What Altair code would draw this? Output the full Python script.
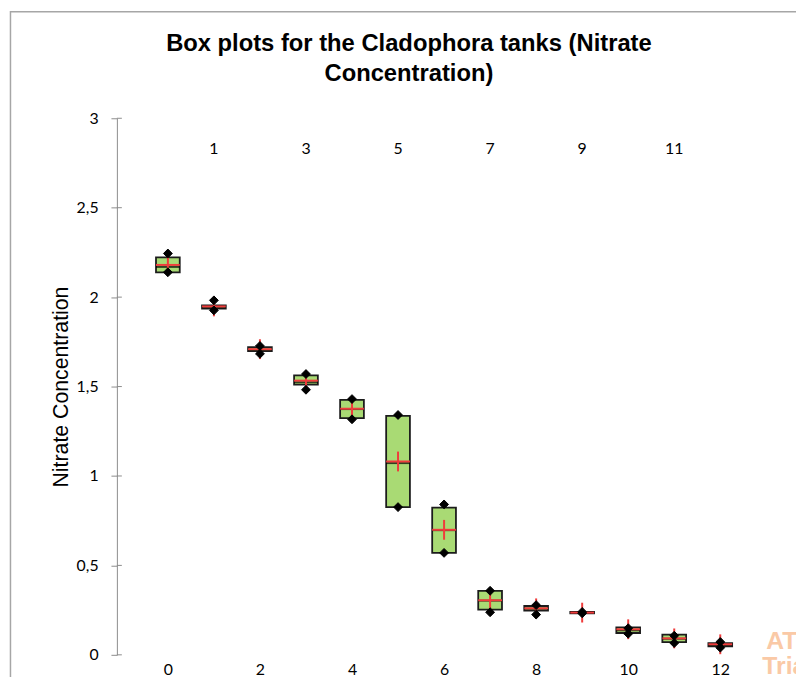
import altair as alt
import pandas as pd

# ---- data ----
categories = list(range(13))
q1_vals     = [2.139, 1.936, 1.698, 1.511, 1.323, 0.826, 0.570, 0.253, 0.247, 0.232, 0.122, 0.071, 0.048]
q3_vals     = [2.222, 1.954, 1.720, 1.563, 1.426, 1.336, 0.823, 0.358, 0.273, 0.240, 0.153, 0.113, 0.065]
median_vals = [2.169, 1.943, 1.706, 1.524, 1.374, 1.072, 0.697, 0.303, 0.258, 0.236, 0.137, 0.090, 0.056]
mean_vals   = [2.180, 1.948, 1.709, 1.533, 1.376, 1.081, 0.699, 0.305, 0.260, 0.236, 0.143, 0.092, 0.059]
min_vals    = [2.139, 1.926, 1.683, 1.482, 1.317, 0.826, 0.570, 0.238, 0.225, 0.232, 0.118, 0.066, 0.040]
max_vals    = [2.244, 1.982, 1.727, 1.570, 1.430, 1.341, 0.841, 0.358, 0.278, 0.240, 0.149, 0.107, 0.072]

bottom_labels = [0, 2, 4, 6, 8, 10, 12]
top_labels = [1, 3, 5, 7, 9, 11]
y_ticks = [0, 0.5, 1, 1.5, 2, 2.5, 3]

title_lines = "Box plots for the Cladophora tanks (Nitrate\nConcentration)"
y_title = "Nitrate Concentration"

df = pd.DataFrame({
    "cat": categories, "q1": q1_vals, "q3": q3_vals, "median": median_vals,
    "mean": mean_vals, "min": min_vals, "max": max_vals,
})
top_df = pd.DataFrame({"c": top_labels, "lab": [str(v) for v in top_labels]})
tick_df = pd.DataFrame({"v": y_ticks})
one = pd.DataFrame({"t": [title_lines]})

W, H = 661, 542
GREEN = "#A9DA74"
RED = "#F03C3C"
GRAY = "#8C8C8C"
LABEL_FONT = "Lato"

xs = alt.Scale(domain=[-1, 13], nice=False, zero=False)
ys = alt.Scale(domain=[0, 3], nice=False, zero=False)

x_axis = alt.Axis(values=bottom_labels, title=None, domain=False, ticks=False, tickSize=0,
                  grid=False, labelPadding=7, labelFont=LABEL_FONT, labelFontSize=16,
                  labelColor="black", labelFlush=False, labelOverlap=False)
y_axis = alt.Axis(values=y_ticks, grid=False, domainColor=GRAY, tickColor=GRAY, tickSize=6,
                  labelPadding=13, labelFont=LABEL_FONT, labelFontSize=16, labelColor="black",
                  labelExpr="replace(toString(datum.value), '.', ',')",
                  title=y_title, titleFont="Liberation Sans", titleFontSize=21.5,
                  titleFontWeight="normal", titleColor="black", titleAngle=270,
                  titleX=-50, titleY=H / 2, titleBaseline="alphabetic", titleAlign="center")

X = alt.X("cat:Q", scale=xs, axis=x_axis)

base = alt.Chart(df)

boxes = base.mark_bar(orient="vertical", size=24, fill=GREEN, stroke="#1c1c1c",
                      strokeWidth=1.8).encode(
    x=X, y=alt.Y("q1:Q", scale=ys, axis=y_axis), y2="q3:Q")

median = base.mark_tick(orient="horizontal", size=24, thickness=2, color="black").encode(
    x=alt.X("cat:Q", scale=xs), y=alt.Y("median:Q", scale=ys))

mean_h = base.mark_tick(orient="horizontal", size=24, thickness=2, color=RED, opacity=1).encode(
    x=alt.X("cat:Q", scale=xs), y=alt.Y("mean:Q", scale=ys))

mean_v = base.mark_tick(orient="vertical", size=20, thickness=2, color=RED, opacity=1).encode(
    x=alt.X("cat:Q", scale=xs), y=alt.Y("mean:Q", scale=ys))

pt_max = base.mark_point(shape="diamond", filled=True, size=80, color="black", opacity=1,
                         stroke="black", strokeWidth=1).encode(
    x=alt.X("cat:Q", scale=xs), y=alt.Y("max:Q", scale=ys))
pt_min = base.mark_point(shape="diamond", filled=True, size=80, color="black", opacity=1,
                         stroke="black", strokeWidth=1).encode(
    x=alt.X("cat:Q", scale=xs), y=alt.Y("min:Q", scale=ys))

inner_ticks = alt.Chart(tick_df).mark_rule(color=GRAY, strokeWidth=1).encode(
    y=alt.Y("v:Q", scale=ys), x=alt.value(0), x2=alt.value(5))

top_text = alt.Chart(top_df).mark_text(font=LABEL_FONT, fontSize=16, baseline="middle",
                                       align="center", color="black").encode(
    x=alt.X("c:Q", scale=xs), y=alt.value(31), text="lab:N")

title = alt.Chart(one).mark_text(font="Liberation Sans", fontSize=24, fontWeight="bold",
                                 color="black", align="center", baseline="alphabetic",
                                 lineBreak="\n", lineHeight=30).encode(
    x=alt.value(295), y=alt.value(-68), text="t:N")

frame = alt.Chart(one).mark_rect(fill="transparent", stroke="#A6A6A6", strokeWidth=1.5).encode(
    x=alt.value(-107.5), x2=alt.value(720), y=alt.value(-107.5), y2=alt.value(620))

wm1 = alt.Chart(one).mark_text(font="Liberation Sans", fontSize=25, fontWeight="bold",
                               color="#FAC9A6", align="left", baseline="alphabetic").encode(
    x=alt.value(656), y=alt.value(536), text=alt.value("AT"))
wm2 = alt.Chart(one).mark_text(font="Liberation Sans", fontSize=25, fontWeight="bold",
                               color="#FAC9A6", align="left", baseline="alphabetic").encode(
    x=alt.value(652), y=alt.value(561), text=alt.value("Trial"))

chart = alt.layer(frame, wm1, wm2, inner_ticks, boxes, median, mean_h, mean_v, pt_max, pt_min,
                  top_text, title).properties(
    width=W, height=H,
    autosize=alt.AutoSizeParams(type="none"),
    padding={"left": 110, "top": 108, "right": 25, "bottom": 19},
).configure(background="white", view=alt.ViewConfig(stroke="transparent", strokeWidth=0))

chart.save("out.html", embed_options={"renderer": "svg", "actions": False})
